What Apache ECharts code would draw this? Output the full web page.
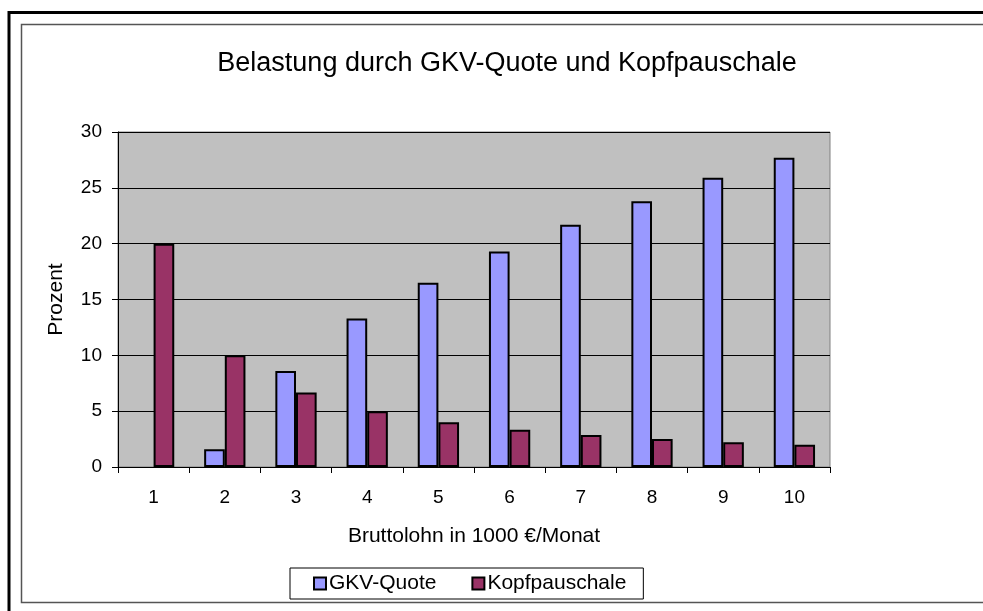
<!DOCTYPE html>
<html>
<head>
<meta charset="utf-8">
<script src="https://cdn.jsdelivr.net/npm/echarts@6/dist/echarts.min.js"></script>
<style>
html,body{margin:0;padding:0;background:#fff;}
#chart{width:983px;height:611px;}
</style>
</head>
<body>
<div id="chart"></div>
<script>
const categories = ['1','2','3','4','5','6','7','8','9','10'];
const gkvQuote = [null, 1.6, 8.6, 13.3, 16.5, 19.3, 21.7, 23.8, 25.9, 27.7];
const kopfpauschale = [20, 10, 6.67, 5, 4, 3.33, 2.86, 2.5, 2.22, 2.0];
const yTicks = { min: 0, max: 30, interval: 5 };
const seriesNames = ['GKV-Quote', 'Kopfpauschale'];
const titleText = 'Belastung durch GKV-Quote und Kopfpauschale';
const xName = 'Bruttolohn in 1000 €/Monat';
const yName = 'Prozent';

const font = 'Arial, "Liberation Sans", sans-serif';
const chart = echarts.init(document.getElementById('chart'));
chart.setOption({
  animation: false,
  backgroundColor: '#ffffff',
  graphic: [
    { type: 'rect', shape: { x: 9, y: 12.5, width: 990, height: 620 }, style: { fill: 'none', stroke: '#000', lineWidth: 3 }, z: -1 },
    { type: 'rect', shape: { x: 21.5, y: 24.5, width: 990, height: 578 }, style: { fill: 'none', stroke: '#555', lineWidth: 1.5 }, z: -1 }
  ],
  title: {
    text: titleText,
    left: 502, top: 45, textAlign: 'center',
    textStyle: { fontFamily: font, fontSize: 27, fontWeight: 'normal', color: '#000' }
  },
  legend: {
    data: seriesNames,
    left: 290, top: 568,
    padding: [5, 17, 5, 23],
    itemGap: 35,
    itemWidth: 12, itemHeight: 12,
    icon: 'rect',
    borderColor: '#000', borderWidth: 1,
    textStyle: { fontFamily: font, fontSize: 21, color: '#000', padding: [0, 0, 0, -2] }
  },
  grid: { left: 118, top: 132, right: 153, bottom: 144, show: true, backgroundColor: '#c0c0c0', borderColor: '#808080', borderWidth: 1 },
  xAxis: {
    type: 'category', data: categories,
    name: xName, nameLocation: 'middle', nameGap: 59,
    nameTextStyle: { fontFamily: font, fontSize: 21, color: '#000' },
    axisLine: { lineStyle: { color: '#000', width: 1 } },
    axisTick: { show: true, length: 6, lineStyle: { color: '#000' } },
    axisLabel: { fontFamily: font, fontSize: 19, color: '#000', margin: 21 }
  },
  yAxis: {
    type: 'value', min: yTicks.min, max: yTicks.max, interval: yTicks.interval,
    name: yName, nameLocation: 'middle', nameGap: 51,
    nameTextStyle: { fontFamily: font, fontSize: 21, color: '#000' },
    axisLine: { show: true, lineStyle: { color: '#000', width: 1 } },
    axisTick: { show: true, length: 6, lineStyle: { color: '#000' } },
    axisLabel: { fontFamily: font, fontSize: 19, color: '#000', margin: 16 },
    splitLine: { show: true, lineStyle: { color: '#000', width: 1 } }
  },
  series: [
    { name: seriesNames[0], type: 'bar', data: gkvQuote, barGap: '0%', barCategoryGap: '42%',
      itemStyle: { color: '#9999ff', borderColor: '#000', borderWidth: 2 } },
    { name: seriesNames[1], type: 'bar', data: kopfpauschale, barGap: '0%', barCategoryGap: '42%',
      itemStyle: { color: '#993366', borderColor: '#000', borderWidth: 2 } }
  ]
});
</script>
</body>
</html>
